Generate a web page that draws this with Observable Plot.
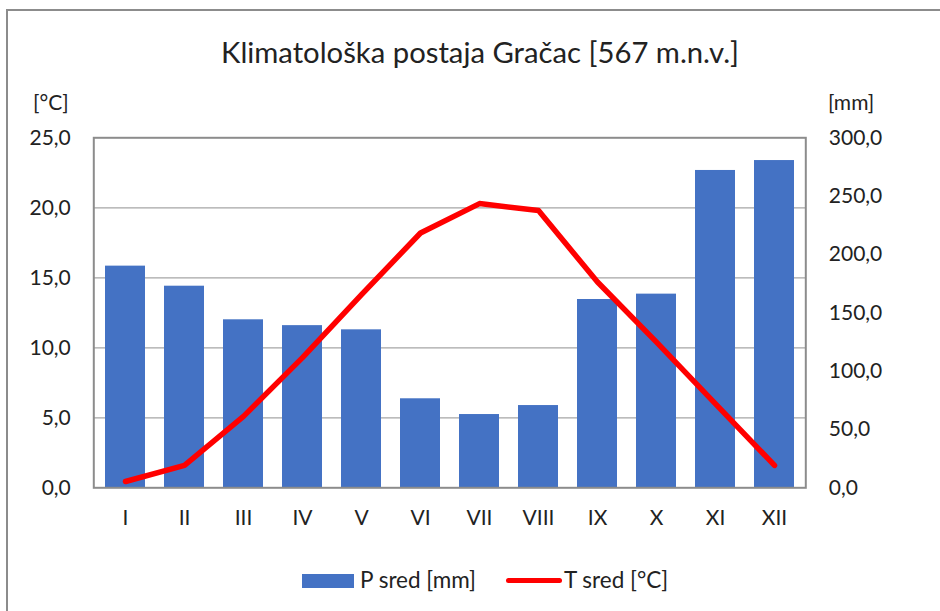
<!DOCTYPE html>
<html>
<head>
<meta charset="utf-8">
<script src="https://cdn.jsdelivr.net/npm/d3@7"></script>
<script src="https://cdn.jsdelivr.net/npm/@observablehq/plot@0.6"></script>
<style>
  html, body { margin: 0; padding: 0; background: #fff; }
  #wrap { position: relative; width: 940px; height: 611px; overflow: hidden; background: #fff; font-family: Lato, "Open Sans", sans-serif; color: #222; }
  #border { position: absolute; left: 6px; top: 9px; width: 1000px; height: 1000px; border-left: 2px solid #8c8c8c; border-top: 2px solid #8c8c8c; }
  #chart { position: absolute; left: 0; top: 0; }
  .lbl { position: absolute; white-space: nowrap; line-height: 1; }
</style>
</head>
<body>
<div id="wrap">
  <div id="border"></div>
  <div id="chart"></div>
  <div id="title" class="lbl" style="left:480px; top:52px; transform:translate(-50%,-50%); font-size:28px;">Klimatološka postaja Gračac [567 m.n.v.]</div>
  <div class="lbl" style="left:33px; top:101px; transform:translateY(-50%); font-size:21px;">[°C]</div>
  <div class="lbl" style="left:828px; top:101px; transform:translateY(-50%); font-size:21px;">[mm]</div>
  <div style="position:absolute; left:302px; top:574px; width:52px; height:14px; background:#4472C4;"></div>
  <div class="lbl" style="left:360px; top:580px; transform:translateY(-50%); font-size:22.5px;">P sred [mm]</div>
  <div style="position:absolute; left:506px; top:577.5px; width:56px; height:5px; border-radius:3px; background:#ff0000;"></div>
  <div class="lbl" style="left:564px; top:580px; transform:translateY(-50%); font-size:22.5px;">T sred [°C]</div>
</div>
<script>
const months = ["I","II","III","IV","V","VI","VII","VIII","IX","X","XI","XII"];
const precip = [190, 172.8, 144, 139, 135.4, 76.3, 62.8, 70.5, 161.4, 166, 272, 280.5];
const temp = [0.45, 1.6, 5.1, 9.3, 13.8, 18.2, 20.3, 19.8, 14.7, 10.4, 6.0, 1.6];
const tempTicks = [0, 5, 10, 15, 20, 25];
const precipTicks = [0, 50, 100, 150, 200, 250, 300];

const ratio = 300 / 25; // mm per °C on the secondary axis
const data = months.map((m, i) => ({month: m, p: precip[i], t: temp[i]}));
const fmt = v => v.toFixed(1).replace(".", ",");

const chart = Plot.plot({
  width: 940,
  height: 611,
  marginTop: 137.3,
  marginBottom: 123.7,
  marginLeft: 93.3,
  marginRight: 134.7,
  style: {fontFamily: "Lato, 'Open Sans', sans-serif", fontSize: "21px", color: "#222", background: "transparent", overflow: "visible"},
  x: {type: "band", domain: months, paddingInner: 0.325, paddingOuter: 0.1625},
  y: {domain: [0, 25]},
  marks: [
    Plot.gridY(tempTicks.filter(d => d > 0 && d < 25), {stroke: "#a6a6a6", strokeOpacity: 1, strokeWidth: 1.3}),
    Plot.barY(data, {x: "month", y: d => d.p / ratio, fill: "#4472C4"}),
    Plot.frame({stroke: "#8c8c8c", strokeWidth: 2}),
    Plot.line(data, {x: "month", y: "t", stroke: "#ff0000", strokeWidth: 5.5, strokeLinecap: "round", strokeLinejoin: "round"}),
    Plot.axisY({anchor: "left", ticks: tempTicks, tickFormat: fmt, tickSize: 0, tickPadding: 23, label: null}),
    Plot.axisY({anchor: "right", ticks: precipTicks.map(v => v / ratio), tickFormat: d => fmt(d * ratio), tickSize: 0, tickPadding: 23, label: null}),
    Plot.axisX({anchor: "bottom", tickSize: 0, tickPadding: 22, label: null})
  ]
});
document.getElementById("chart").appendChild(chart);

// fit title width to reference (~518 px)
const t = document.getElementById("title");
const w = t.getBoundingClientRect().width;
t.style.fontSize = (28 * 518 / w).toFixed(2) + "px";
</script>
</body>
</html>
